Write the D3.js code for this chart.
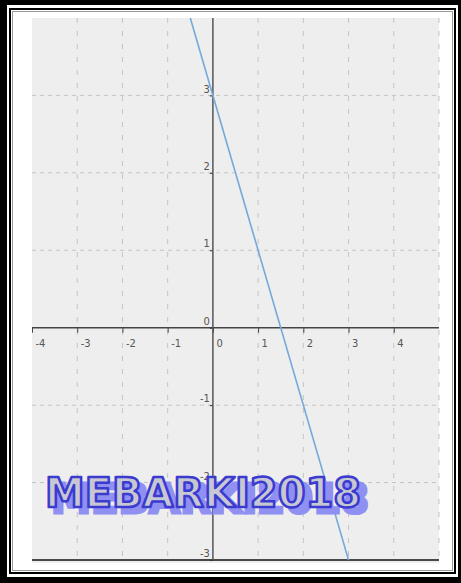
<!DOCTYPE html>
<html>
<head>
<meta charset="utf-8">
<script src="https://cdn.jsdelivr.net/npm/d3@7"></script>
<style>
body{margin:0;background:#fff;}
svg{display:block;}
.tick text{font-family:"Liberation Sans Narrow","DejaVu Sans Condensed",sans-serif;font-size:11px;fill:#555;}
</style>
</head>
<body>
<div id="chart"></div>
<script>
// values
var xTicks=[-4,-3,-2,-1,0,1,2,3,4];
var yTicks=[-3,-2,-1,0,1,2,3];
var xGrid=[-3,-2,-1,1,2,3,4,5];
var yGrid=[-2,-1,1,2,3];
var linePts=[{x:-0.5,y:4},{x:3,y:-3}]; // y = -2x + 3
var stamp="MEBARKI2018";

var W=461,H=583;
var plot={left:32,right:439,top:18,bottom:560};

var svg=d3.select("#chart").append("svg")
    .attr("width",W).attr("height",H);

// double frame
svg.append("rect").attr("width",W).attr("height",H).attr("fill","#000");
svg.append("rect").attr("x",7).attr("y",5).attr("width",451).attr("height",572).attr("fill","#fff");
svg.append("rect").attr("x",10).attr("y",9).attr("width",445).attr("height",564)
    .attr("fill","none").attr("stroke","#000").attr("stroke-width",2);
svg.append("rect").attr("x",12.5).attr("y",11.5).attr("width",440).attr("height",559)
    .attr("fill","none").attr("stroke","#999").attr("stroke-width",1);

var xScale=d3.scaleLinear().domain([-4,5]).range([plot.left,plot.right]);
var yScale=d3.scaleLinear().domain([-3,4]).range([plot.bottom,plot.top]);

svg.append("rect")
    .attr("x",plot.left).attr("y",plot.top)
    .attr("width",plot.right-plot.left).attr("height",plot.bottom-plot.top+3)
    .attr("fill","#eeeeee");

var g=svg.append("g");

// dashed grid
g.selectAll(".vg").data(xGrid).enter().append("line")
    .attr("x1",d=>xScale(d)).attr("x2",d=>xScale(d))
    .attr("y1",plot.top).attr("y2",plot.bottom)
    .attr("stroke","#c4c4c4").attr("stroke-dasharray","5,8");
g.selectAll(".hg").data(yGrid).enter().append("line")
    .attr("x1",plot.left).attr("x2",plot.right)
    .attr("y1",d=>yScale(d)).attr("y2",d=>yScale(d))
    .attr("stroke","#c4c4c4").attr("stroke-dasharray","4,4");

// bottom edge line
g.append("line")
    .attr("x1",plot.left).attr("x2",plot.right)
    .attr("y1",plot.bottom).attr("y2",plot.bottom)
    .attr("stroke","#111").attr("stroke-width",1.5);

// x axis
var xAxis=g.append("g")
    .attr("transform","translate(0,"+yScale(0)+")")
    .call(d3.axisBottom(xScale).tickValues(xTicks).tickSize(5)
        .tickFormat(d=>String(d)));
xAxis.select(".domain").remove();
xAxis.selectAll(".tick line").attr("stroke","#444");
xAxis.selectAll(".tick text").attr("text-anchor","start").attr("x",3).attr("y",11);
g.append("line")
    .attr("x1",plot.left).attr("x2",plot.right)
    .attr("y1",yScale(0)).attr("y2",yScale(0))
    .attr("stroke","#444").attr("stroke-width",1.5);

// y axis
var yAxis=g.append("g")
    .attr("transform","translate("+xScale(0)+",0)")
    .call(d3.axisLeft(yScale).tickValues(yTicks).tickSize(3)
        .tickFormat(d=>String(d)));
yAxis.select(".domain").remove();
yAxis.selectAll(".tick line").attr("stroke","#333");
yAxis.selectAll(".tick text").attr("x",-3).attr("dy","-0.3em");
g.append("line")
    .attr("x1",xScale(0)).attr("x2",xScale(0))
    .attr("y1",plot.top).attr("y2",plot.bottom)
    .attr("stroke","#555").attr("stroke-width",1.5);

// the function line
var valueline=d3.line().x(d=>xScale(d.x)).y(d=>yScale(d.y));
g.append("path").datum(linePts)
    .attr("d",valueline)
    .attr("fill","none")
    .attr("stroke","#75a9dc")
    .attr("stroke-width",1.6);

// watermark
var wm=svg.append("g").style("font-family","'DejaVu Sans',sans-serif")
    .style("font-weight","bold").style("font-size","40px");
wm.append("text").attr("x",51).attr("y",513)
    .attr("textLength",318).attr("lengthAdjust","spacingAndGlyphs")
    .attr("fill","#9090f2").attr("stroke","#9090f2").attr("stroke-width",3)
    .text(stamp);
wm.append("text").attr("x",45).attr("y",507)
    .attr("textLength",316).attr("lengthAdjust","spacingAndGlyphs")
    .attr("fill","#c8c8d2").attr("stroke","#3b3bd0").attr("stroke-width",2.5)
    .attr("stroke-linejoin","round")
    .text(stamp);
</script>
</body>
</html>
